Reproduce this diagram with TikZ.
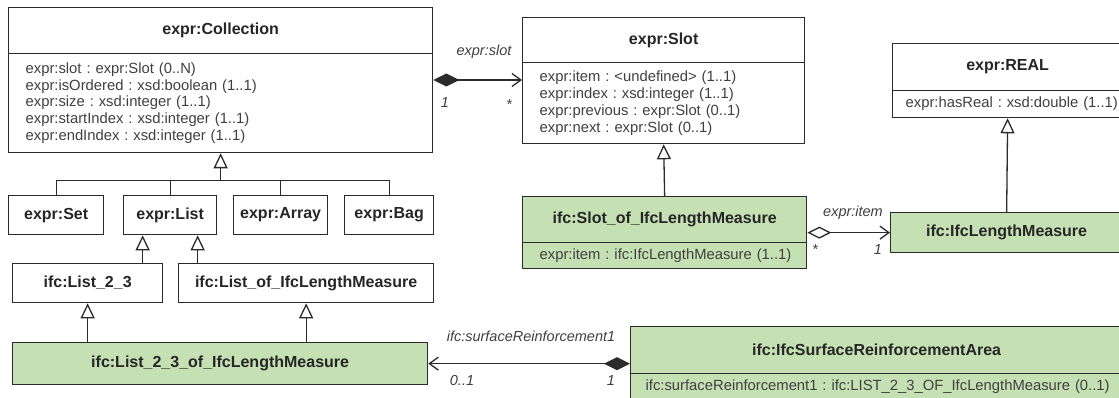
\documentclass[tikz,border=0pt]{standalone}
\usepackage{fontspec}
\setmainfont{Liberation Sans}
\usetikzlibrary{arrows.meta}

\definecolor{ifcgreen}{HTML}{C5E0B3}
\definecolor{umlline}{HTML}{2B2B2B}
\definecolor{umltext}{HTML}{404040}

\begin{document}
\frenchspacing
\begin{tikzpicture}[x=1pt, y=-1pt,
    cls/.style={draw=umlline, line width=1.3pt, fill=white, anchor=north west, inner sep=0pt, font=\fontsize{16}{19}\selectfont\bfseries, text=black!85},
    attrs/.style={draw=umlline, line width=1.3pt, fill=white, anchor=north west, inner xsep=17pt, inner ysep=0pt, align=left, font=\fontsize{14.8}{16.7}\selectfont, text=umltext},
    ifc/.style={fill=ifcgreen},
    gen/.style={draw=umlline, line width=1.3pt, -{Triangle[open, length=15pt, width=14pt]}},
    comp/.style={draw=umlline, line width=1.3pt, {Diamond[length=26pt, width=13pt]}-{Straight Barb[length=9pt, width=13pt]}},
    aggr/.style={draw=umlline, line width=1.3pt, {Diamond[open, length=24pt, width=12pt]}-{Straight Barb[length=9pt, width=13pt]}},
    role/.style={font=\fontsize{14.5}{16}\selectfont\itshape, text=umltext, inner sep=0pt}]

    \useasboundingbox (0,0) rectangle (1119,398);
    \fill[white] (0,0) rectangle (1119,398);
    \clip (0,0) rectangle (1119,398);

    % expr classes
    \node[cls, minimum width=424pt, minimum height=46pt] (coll) at (8,7) {expr:Collection};
    \node[attrs, text width=390pt, minimum height=99pt] (collA) at (8,53) {expr:slot : expr:Slot (0..N)\\expr:isOrdered : xsd:boolean (1..1)\\expr:size : xsd:integer (1..1)\\expr:startIndex : xsd:integer (1..1)\\expr:endIndex : xsd:integer (1..1)};

    \node[cls, minimum width=282pt, minimum height=45pt] (slot) at (522,17) {expr:Slot};
    \node[attrs, text width=248pt, minimum height=81pt] (slotA) at (522,62) {expr:item : <undefined> (1..1)\\expr:index : xsd:integer (1..1)\\expr:previous : expr:Slot (0..1)\\expr:next : expr:Slot (0..1)};

    \node[cls, minimum width=230pt, minimum height=47pt] (real) at (892,43) {expr:REAL};
    \node[attrs, inner xsep=13pt, text width=204pt, minimum height=27pt] (realA) at (892,90) {\mbox{expr:hasReal : xsd:double (1..1)}};

    \node[cls, minimum width=95pt, minimum height=39pt] (set) at (8,195) {expr:Set};
    \node[cls, minimum width=93pt, minimum height=39pt] (list) at (123,195) {expr:List};
    \node[cls, minimum width=94pt, minimum height=39pt] (array) at (233,195) {expr:Array};
    \node[cls, minimum width=89pt, minimum height=39pt] (bag) at (344,195) {expr:Bag};

    % ifc classes
    \node[cls, minimum width=150pt, minimum height=39pt] (l23) at (12,263) {ifc:List\_2\_3};
    \node[cls, minimum width=255pt, minimum height=39pt] (lofm) at (178,263) {ifc:List\_of\_IfcLengthMeasure};
    \node[cls, ifc, minimum width=415pt, minimum height=42pt] (l23m) at (12,342) {ifc:List\_2\_3\_of\_IfcLengthMeasure};

    \node[cls, ifc, minimum width=284pt, minimum height=46pt] (sol) at (522,196) {ifc:Slot\_of\_IfcLengthMeasure};
    \node[attrs, ifc, text width=250pt, minimum height=26pt] (solA) at (522,242) {\mbox{expr:item : ifc:IfcLengthMeasure (1..1)}};

    \node[cls, ifc, minimum width=232pt, minimum height=40pt] (ilm) at (890,212) {ifc:IfcLengthMeasure};

    \node[cls, ifc, minimum width=492pt, minimum height=47pt] (area) at (630,326) {ifc:IfcSurfaceReinforcementArea};
    \node[attrs, ifc, inner xsep=15pt, text width=490pt, minimum height=27pt] (areaA) at (630,373) {\mbox{ifc:surfaceReinforcement1 : ifc:LIST\_2\_3\_OF\_IfcLengthMeasure (0..1)}};

    % generalisations
    \coordinate (hub) at ([yshift=-27pt]collA.south);
    \draw[gen] (hub) -- (collA.south);
    \draw[umlline, line width=1.3pt] (set.north) |- (hub) -| (bag.north);
    \draw[umlline, line width=1.3pt] (list.north) -- (list.north |- hub);
    \draw[umlline, line width=1.3pt] (array.north) -- (array.north |- hub);

    \draw[gen] ([xshift=55pt]l23.north) -- ([xshift=55pt]l23.north |- list.south);
    \draw[gen] ([xshift=-108.5pt]lofm.north) -- ([xshift=-108.5pt]lofm.north |- list.south);
    \draw[gen] (l23.south |- l23m.north) -- (l23.south);
    \draw[gen] (lofm.south |- l23m.north) -- (lofm.south);
    \draw[gen] (sol.north) -- (slotA.south);
    \draw[gen] (ilm.north) -- (realA.south);

    % associations
    \coordinate (collSlot) at ([yshift=-27pt]collA.north east);
    \draw[comp] (collSlot) -- (collSlot -| slotA.west);
    \draw[aggr] (sol.east |- ilm.west) -- (ilm.west);
    \draw[comp] (area.west |- l23m.east) -- (l23m.east);

    \node[role] (slotName) at (484,52) {expr:slot};
    \node[role] (slotMulC) at (445,103) {1};
    \node[role] (slotMulS) at (509,105) {*};
    \node[role] (itemName) at (853,213) {expr:item};
    \node[role] (itemMulS) at (815,250) {*};
    \node[role] (itemMulI) at (878,250) {1};
    \node[role] (reinfName) at (531,336) {ifc:surfaceReinforcement1};
    \node[role] (reinfMulL) at (462,381) {0..1};
    \node[role] (reinfMulA) at (611,381) {1};
\end{tikzpicture}
\end{document}
